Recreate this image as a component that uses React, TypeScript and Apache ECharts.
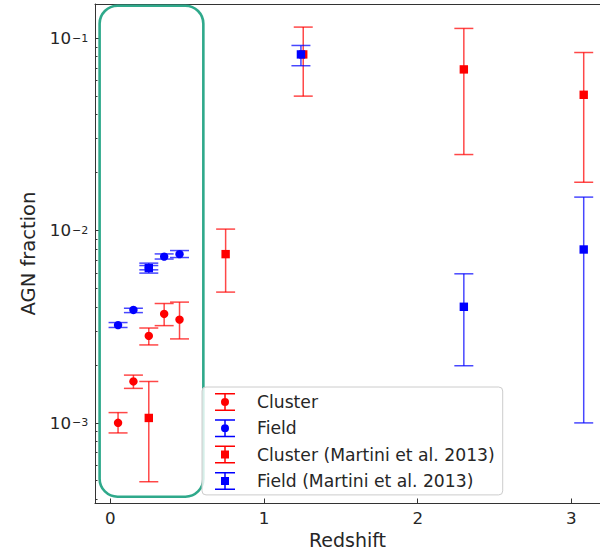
import React, { useEffect, useRef } from "react";
import * as echarts from "echarts";

// ---------- data ----------
const clusterZ = [0.05, 0.15, 0.25, 0.35, 0.45];
const clusterFrac = [0.001, 0.00164, 0.00283, 0.00368, 0.00344];
const clusterLo = [0.000886, 0.00151, 0.00254, 0.0032, 0.00273];
const clusterHi = [0.00113, 0.00177, 0.00311, 0.00417, 0.00424];

const fieldZ = [0.05, 0.15, 0.25, 0.35, 0.45];
const fieldFrac = [0.00322, 0.00386, 0.00639, 0.00731, 0.00753];
const fieldLo = [0.00313, 0.00374, 0.00624, 0.0071, 0.00723];
const fieldHi = [0.00332, 0.00394, 0.00657, 0.00755, 0.00786];

const martiniClusterZ = [0.25, 0.75, 1.255, 2.3, 3.08];
const martiniClusterFrac = [0.00106, 0.00753, 0.0822, 0.0687, 0.0507];
const martiniClusterLo = [0.000494, 0.00478, 0.0499, 0.0248, 0.0178];
const martiniClusterHi = [0.00164, 0.01016, 0.114, 0.1122, 0.0841];

const martiniFieldZ = [0.25, 1.24, 2.3, 3.08];
const martiniFieldFrac = [0.00637, 0.0822, 0.00401, 0.00796];
const martiniFieldLo = [0.006, 0.0718, 0.00198, 0.000999];
const martiniFieldHi = [0.00676, 0.0915, 0.00595, 0.0149];

// highlighted region [xmin, xmax, ymin, ymax]
const highlightBox = [-0.07, 0.605, 0.000413, 0.1473];

const xTicks = [0, 1, 2, 3];
const yMajorTicks = [0.001, 0.01, 0.1];
const yMinorTicks = [
  0.0004, 0.0005, 0.0006, 0.0007, 0.0008, 0.0009,
  0.002, 0.003, 0.004, 0.005, 0.006, 0.007, 0.008, 0.009,
  0.02, 0.03, 0.04, 0.05, 0.06, 0.07, 0.08, 0.09,
];

const X_MIN = -0.1;
const X_MAX = 3.186;
const Y_MIN = 0.000383;
const Y_MAX = 0.1503;

const FONT = "DejaVu Sans";
const TXT = "#262626";
const AXIS = "#333333";

const circleIcon =
  "path://M0 0H20V1.5H0Z M0 16.5H20V18H0Z M9.25 1.5H10.75V16.5H9.25Z M14 9A4 4 0 1 1 6 9A4 4 0 1 1 14 9Z";
const squareIcon =
  "path://M0 0H20V1.5H0Z M0 16.5H20V18H0Z M9.25 1.5H10.75V16.5H9.25Z M6 5H14V13H6Z";

function errSeries(
  name: string,
  xs: number[],
  ys: number[],
  los: number[],
  his: number[],
  color: string,
  lineColor: string,
  marker: "circle" | "square"
) {
  return {
    type: "custom",
    name,
    xAxisIndex: 0,
    yAxisIndex: 0,
    clip: false,
    itemStyle: { color },
    encode: { x: 0, y: [1, 2, 3] },
    data: xs.map((x, i) => [x, ys[i], los[i], his[i]]),
    renderItem: (params: any, api: any) => {
      const x = api.value(0);
      const c = api.coord([x, api.value(1)]);
      const lo = api.coord([x, api.value(2)]);
      const hi = api.coord([x, api.value(3)]);
      const hw = 9.5;
      const ls = { stroke: lineColor, lineWidth: 1.5 };
      const m =
        marker === "circle"
          ? { type: "circle", shape: { cx: c[0], cy: c[1], r: 4.2 }, style: { fill: color } }
          : { type: "rect", shape: { x: c[0] - 4.2, y: c[1] - 4.2, width: 8.4, height: 8.4 }, style: { fill: color } };
      return {
        type: "group",
        children: [
          { type: "line", shape: { x1: c[0], y1: hi[1], x2: c[0], y2: lo[1] }, style: ls },
          { type: "line", shape: { x1: c[0] - hw, y1: hi[1], x2: c[0] + hw, y2: hi[1] }, style: ls },
          { type: "line", shape: { x1: c[0] - hw, y1: lo[1], x2: c[0] + hw, y2: lo[1] }, style: ls },
          m,
        ],
      };
    },
  };
}

export default function App() {
  const ref = useRef<HTMLDivElement>(null);
  useEffect(() => {
    if (!ref.current) return;
    const chart = echarts.init(ref.current, null, { renderer: "svg" });
    const RED = "#ff0000";
    const BLUE = "#0000ff";
    const REDL = "rgba(255,0,0,0.72)";
    const BLUEL = "rgba(0,0,255,0.72)";
    chart.setOption({
      animation: false,
      grid: { left: 95, right: 0, top: 4, bottom: 47, containLabel: false, outerBoundsMode: "none" },
      legend: {
        orient: "vertical",
        left: 202,
        top: 387,
        padding: [6, 8, 5, 13],
        itemWidth: 20,
        itemHeight: 18,
        itemGap: 8.3,
        backgroundColor: "rgba(255,255,255,0.8)",
        borderColor: "#cccccc",
        borderWidth: 1,
        borderRadius: 4,
        selectedMode: false,
        formatter: (n: string) => "{t|" + n + "}",
        textStyle: {
          fontFamily: FONT,
          fontSize: 17.2,
          color: TXT,
          rich: { t: { fontFamily: FONT, fontSize: 17.2, color: TXT, padding: [0, 0, 0, 17], lineHeight: 18 } },
        },
        data: [
          { name: "Cluster", icon: circleIcon },
          { name: "Field", icon: circleIcon },
          { name: "Cluster (Martini et al. 2013)", icon: squareIcon },
          { name: "Field (Martini et al. 2013)", icon: squareIcon },
        ],
      },
      xAxis: [
        {
          type: "value",
          min: X_MIN,
          max: X_MAX,
          position: "bottom",
          name: "Redshift",
          nameLocation: "middle",
          nameGap: 23,
          nameTextStyle: { fontFamily: FONT, fontSize: 19, color: TXT, lineHeight: 19 },
          axisLine: { show: true, onZero: false, lineStyle: { color: AXIS, width: 1 } },
          axisTick: { show: true, inside: true, length: 4.5, customValues: xTicks, lineStyle: { color: AXIS } },
          axisLabel: { customValues: xTicks, fontFamily: FONT, fontSize: 16.7, color: TXT, margin: 6 },
          splitLine: { show: false },
        },
        {
          type: "value",
          min: X_MIN,
          max: X_MAX,
          position: "top",
          axisLine: { show: true, onZero: false, lineStyle: { color: AXIS, width: 1 } },
          axisTick: { show: false },
          axisLabel: { show: false },
          splitLine: { show: false },
        },
      ],
      yAxis: [
        {
          type: "log",
          min: Y_MIN,
          max: Y_MAX,
          position: "left",
          name: "AGN fraction",
          nameLocation: "middle",
          nameGap: 54,
          nameTextStyle: { fontFamily: FONT, fontSize: 19.5, color: TXT },
          axisLine: { show: true, onZero: false, lineStyle: { color: AXIS, width: 1 } },
          axisTick: { show: true, inside: true, length: 4.5, customValues: yMajorTicks, lineStyle: { color: AXIS } },
          axisLabel: {
            customValues: yMajorTicks,
            formatter: () => "10",
            fontFamily: FONT,
            fontSize: 16.7,
            color: TXT,
            margin: 24,
            padding: [3, 0, 0, 0],
          },
          splitLine: { show: false },
        },
        {
          type: "log",
          min: Y_MIN,
          max: Y_MAX,
          position: "left",
          axisLine: { show: false, onZero: false },
          axisTick: { show: true, inside: true, length: 2.5, customValues: yMinorTicks, lineStyle: { color: AXIS } },
          axisLabel: { show: false },
          splitLine: { show: false },
        },
        {
          type: "log",
          min: Y_MIN,
          max: Y_MAX,
          position: "left",
          axisLine: { show: false, onZero: false },
          axisTick: { show: false },
          axisLabel: {
            customValues: yMajorTicks,
            formatter: (v: number) => {
              const e = Math.round(Math.log10(v));
              return (e < 0 ? "\u2212" : "") + Math.abs(e);
            },
            fontFamily: FONT,
            fontSize: 11,
            color: TXT,
            margin: 6.7,
            padding: [0, 0, 5, 0],
          },
          splitLine: { show: false },
        },
      ],
      series: [
        {
          type: "custom",
          name: "highlight",
          silent: true,
          clip: false,
          xAxisIndex: 0,
          yAxisIndex: 0,
          z: 1,
          encode: { x: [0, 1], y: [2, 3] },
          data: [highlightBox],
          renderItem: (params: any, api: any) => {
            const tl = api.coord([api.value(0), api.value(3)]);
            const br = api.coord([api.value(1), api.value(2)]);
            return {
              type: "rect",
              shape: { x: tl[0], y: tl[1], width: br[0] - tl[0], height: br[1] - tl[1], r: 18 },
              style: { fill: "none", stroke: "#2fa98b", lineWidth: 2.6 },
            };
          },
        },
        errSeries("Cluster", clusterZ, clusterFrac, clusterLo, clusterHi, RED, REDL, "circle"),
        errSeries("Field", fieldZ, fieldFrac, fieldLo, fieldHi, BLUE, BLUEL, "circle"),
        errSeries(
          "Cluster (Martini et al. 2013)",
          martiniClusterZ,
          martiniClusterFrac,
          martiniClusterLo,
          martiniClusterHi,
          RED,
          REDL,
          "square"
        ),
        errSeries(
          "Field (Martini et al. 2013)",
          martiniFieldZ,
          martiniFieldFrac,
          martiniFieldLo,
          martiniFieldHi,
          BLUE,
          BLUEL,
          "square"
        ),
      ],
    });
    return () => chart.dispose();
  }, []);
  return (
    <div
      ref={ref}
      style={{ position: "fixed", left: 0, top: 0, width: 600, height: 550, background: "#ffffff" }}
    />
  );
}
